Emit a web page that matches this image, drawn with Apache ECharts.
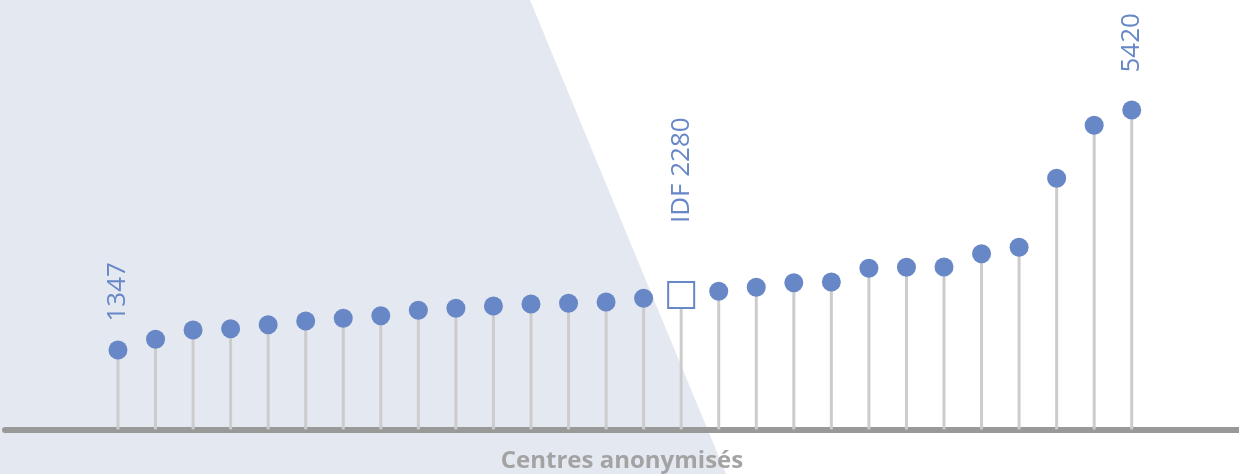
<!DOCTYPE html>
<html>
<head>
<meta charset="utf-8">
<script src="https://cdn.jsdelivr.net/npm/echarts@6/dist/echarts.min.js"></script>
<style>html,body{margin:0;padding:0;background:#fff}#c{width:1239px;height:474px}</style>
</head>
<body>
<div id="c"></div>
<script>
const categories = ['C01','C02','C03','C04','C05','C06','C07','C08','C09','C10','C11','C12','C13','C14','C15','IDF','C17','C18','C19','C20','C21','C22','C23','C24','C25','C26','C27','C28'];
const values = [1347,1529,1687,1709,1777,1840,1885,1930,2021,2055,2094,2128,2140,2162,2225,2280,2344,2412,2490,2502,2734,2751,2756,2982,3090,4261,5161,5420];
const labelTexts = {0:'1347', 15:'IDF 2280', 27:'5420'};
const highlightIndex = 15;
const xAxisTitle = 'Centres anonymisés';

const blue = '#6787c7';
const labelDistance = {0:19, 15:58, 27:28};

const scatterData = values.map((v,i)=>{
  const item = {value: v};
  if (i === highlightIndex) {
    item.symbol = 'rect';
    item.symbolSize = 26;
    item.itemStyle = {color:'#ffffff', borderColor: blue, borderWidth: 2};
  }
  if (labelTexts[i] !== undefined) {
    item.label = {
      show: true, position: 'top', rotate: 90, align: 'left', verticalAlign: 'middle',
      distance: labelDistance[i], formatter: labelTexts[i],
      color: blue, fontSize: 26, fontFamily: 'Open Sans'
    };
  }
  return item;
});

const chart = echarts.init(document.getElementById('c'));
chart.setOption({
  animation: false,
  graphic: [{
    type: 'polygon', z: -10, silent: true,
    shape: {points: [[0,0],[530,0],[726,474],[0,474]]},
    style: {fill: '#e4e8f0'}
  }],
  grid: [
    {left: 99.2, right: 88.5, top: 75.85, bottom: 44.6, outerBoundsMode: 'none', containLabel: false},
    {left: 5, right: 0, top: 75.85, bottom: 44.3, outerBoundsMode: 'none', containLabel: false}
  ],
  xAxis: [
    {type: 'category', data: categories, gridIndex: 0,
     axisLine: {show: false}, axisTick: {show: false}, axisLabel: {show: false}, splitLine: {show: false}},
    {type: 'value', gridIndex: 1, min: 0, max: 1,
     axisLine: {show: true, lineStyle: {color: '#999999', width: 6}},
     axisTick: {show: false}, axisLabel: {show: false}, splitLine: {show: false},
     name: xAxisTitle, nameLocation: 'middle', nameGap: 19,
     nameTextStyle: {color: '#a3a3a3', fontSize: 24, fontWeight: 'bold', fontFamily: 'Open Sans'}}
  ],
  yAxis: [
    {type: 'value', gridIndex: 0, min: 0, max: 6000, show: false},
    {type: 'value', gridIndex: 1, min: 0, max: 6000, show: false}
  ],
  series: [
    {type: 'bar', xAxisIndex: 0, yAxisIndex: 0, data: values, barWidth: 3,
     itemStyle: {color: '#cccccc'}, silent: true, z: 2},
    {type: 'scatter', xAxisIndex: 0, yAxisIndex: 0, data: scatterData,
     symbol: 'circle', symbolSize: 19, itemStyle: {color: blue, opacity: 1}, z: 3}
  ]
});
</script>
</body>
</html>
